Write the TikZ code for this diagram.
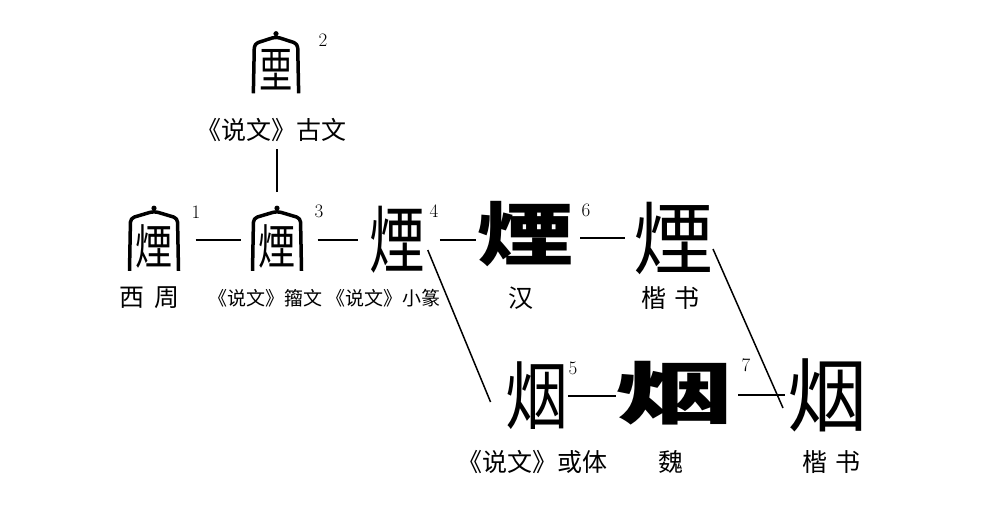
\documentclass[tikz,border=0pt]{standalone}
\usepackage{fontspec}
\newfontfamily\cjk{Noto Sans CJK SC}
\begin{document}
\begin{tikzpicture}[x=1pt,y=-1pt,
 glyph/.style={inner sep=0pt,outer sep=0pt,font=\cjk\fontsize{74}{74}\selectfont},
 bigglyph/.style={inner sep=0pt,outer sep=0pt,font=\cjk\fontsize{80}{80}\selectfont},
 boldglyph/.style={inner sep=0pt,outer sep=0pt,font=\cjk\bfseries\fontsize{74}{74}\selectfont},
 num/.style={inner sep=0pt,font=\fontsize{19}{19}\selectfont},
 lbl/.style={inner sep=0pt,font=\cjk\fontsize{25}{25}\selectfont},
 smalllbl/.style={inner sep=0pt,font=\cjk\fontsize{19}{19}\selectfont},
 roofline/.style={line width=3.5pt,line join=round,rounded corners=4pt},
 link/.style={line width=2pt},
 thinlink/.style={line width=1.5pt}]
\newcommand\sealroof[1]{%
  \draw[roofline] ([xshift=-6pt,yshift=-3pt]#1.south west) -- ([xshift=-5pt,yshift=6pt]#1.north west)
    -- ([yshift=13pt]#1.north) -- ([xshift=5pt,yshift=6pt]#1.north east) -- ([xshift=6pt,yshift=-3pt]#1.south east);
  \fill ([yshift=16pt]#1.north) circle (2.6pt);}
\fill[white] (0,0) rectangle (1008,512);
\useasboundingbox (0,0) rectangle (1008,512);
% glyphs
\node[glyph] (g2) at (276,70) {\scalebox{0.45}[0.65]{垔}};
\sealroof{g2}
\node[num] (n2) at (323,40) {2};
\node[lbl] (l2) at (271,130) {《说文》古文};
\node[glyph] (g1) at (154,246) {\scalebox{0.5}[0.65]{煙}};
\sealroof{g1}
\node[num] (n1) at (196,212) {1};
\node[glyph] (g3) at (277,246) {\scalebox{0.5}[0.65]{煙}};
\sealroof{g3}
\node[num] (n3) at (319,211) {3};
\node[glyph] (g4) at (397,240) {\scalebox{0.75}[1]{煙}};
\node[num] (n4) at (434,211) {4};
\node[boldglyph] (g6) at (526,234) {\scalebox{1.3}[0.95]{煙}};
\node[num] (n6) at (586,210) {6};
\node[bigglyph] (g8) at (673,238) {煙};
\node[glyph] (g5) at (537,396) {\scalebox{0.85}[1]{烟}};
\node[num] (n5) at (573,368) {5};
\node[boldglyph] (g7) at (675,393) {\scalebox{1.6}[0.92]{烟}};
\node[num] (n7) at (746,365) {7};
\node[bigglyph] (g9) at (827,395) {烟};
% labels
\node[lbl] (l1) at (149,298) {西\hspace{10pt}周};
\node[smalllbl] (l3) at (265,298) {《说文》籀文};
\node[smalllbl] (l4) at (383,298) {《说文》小篆};
\node[lbl] (l6) at (521,298) {汉};
\node[lbl] (l8) at (670,298) {楷\hspace{8pt}书};
\node[lbl] (l5) at (532,462) {《说文》或体};
\node[lbl] (l7) at (671,462) {魏};
\node[lbl] (l9) at (831,462) {楷\hspace{8pt}书};
% connectors
\draw[link,shorten <=32pt,shorten >=7.5pt] (g3.north) -- (g3.north |- l2.south);
\draw[link,shorten <=23pt,shorten >=18pt] (g1.east |- g4.west) -- (g3.west |- g4.west);
\draw[link,shorten <=22pt,shorten >=11pt] (g3.east |- g4.west) -- (g4.west);
\draw[link,shorten <=15pt,shorten >=2pt] (g4.east) -- (g4.east -| g6.west);
\draw[link,shorten <=6pt,shorten >=8pt] (g8.west -| g6.east) -- (g8.west);
\draw[link] (g5.east) -- (g5.east -| g7.west);
\draw[link,shorten <=4pt,shorten >=2pt] (g9.west -| g7.east) -- (g9.west);
\draw[thinlink] ([xshift=3pt,yshift=-10pt]g4.east) -- ([xshift=-15pt,yshift=-6pt]g5.west);
\draw[thinlink] ([yshift=-11pt]g8.east) -- ([xshift=-4pt,yshift=-13pt]g9.west);
\end{tikzpicture}
\end{document}
